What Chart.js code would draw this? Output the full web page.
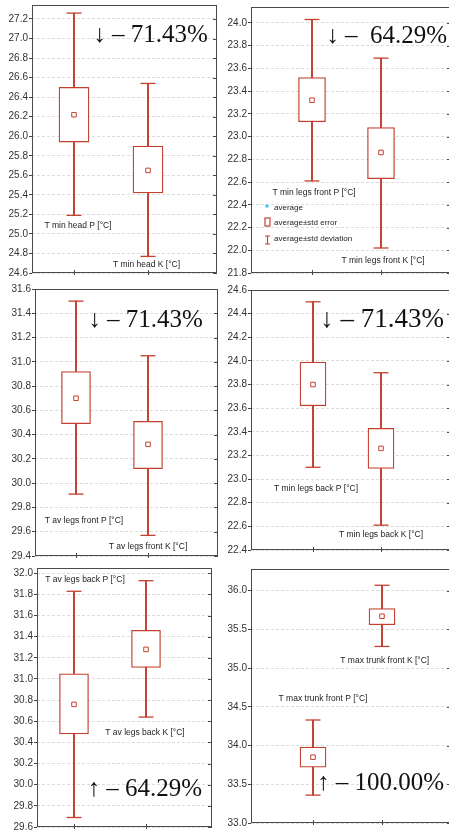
<!DOCTYPE html>
<html lang="en">
<head>
<meta charset="UTF-8" />
<title>Body temperature P vs K</title>
<script src="https://cdn.jsdelivr.net/npm/chart.js"></script>
<style>
  * { margin: 0; padding: 0; box-sizing: border-box; }
  body { background: #fff; width: 449px; height: 830px; overflow: hidden; position: relative; }
  canvas { position: absolute; }
</style>
</head>
<body>
<canvas id="c0"></canvas>
<canvas id="c1"></canvas>
<canvas id="c2"></canvas>
<canvas id="c3"></canvas>
<canvas id="c4"></canvas>
<canvas id="c5"></canvas>

<script>
// categories (P = first group, K = second group), one pair per panel
const panelLabels = [
  ['T min head P [°C]', 'T min head K [°C]'],
  ['T min legs front P [°C]', 'T min legs front K [°C]'],
  ['T av legs front P [°C]', 'T av legs front K [°C]'],
  ['T min legs back P [°C]', 'T min legs back K [°C]'],
  ['T av legs back P [°C]', 'T av legs back K [°C]'],
  ['T max trunk front P [°C]', 'T max trunk front K [°C]']
];

// average, average ± std error, average ± std deviation
const means  = [[26.22, 25.65], [23.32, 22.86], [30.70, 30.32], [23.80, 23.26], [30.76, 31.28], [33.85, 35.67]];
const seLow  = [[25.94, 25.42], [23.13, 22.63], [30.49, 30.12], [23.62, 23.09], [30.48, 31.11], [33.72, 35.56]];
const seHigh = [[26.50, 25.90], [23.52, 23.08], [30.92, 30.51], [23.99, 23.43], [31.05, 31.46], [33.98, 35.77]];
const sdLow  = [[25.19, 24.77], [22.61, 22.02], [29.91, 29.57], [23.10, 22.61], [29.69, 30.64], [33.36, 35.28]];
const sdHigh = [[27.26, 26.54], [24.03, 23.69], [31.50, 31.05], [24.50, 23.90], [31.83, 31.93], [34.33, 36.07]];

const changes = ['↓ – 71.43%', '↓ –  64.29%', '↓ – 71.43%', '↓ – 71.43%', '↑ – 64.29%', '↑ – 100.00%'];

// y tick labels per panel
const yTicks = [
  [24.6, 24.8, 25.0, 25.2, 25.4, 25.6, 25.8, 26.0, 26.2, 26.4, 26.6, 26.8, 27.0, 27.2],
  [21.8, 22.0, 22.2, 22.4, 22.6, 22.8, 23.0, 23.2, 23.4, 23.6, 23.8, 24.0],
  [29.4, 29.6, 29.8, 30.0, 30.2, 30.4, 30.6, 30.8, 31.0, 31.2, 31.4, 31.6],
  [22.4, 22.6, 22.8, 23.0, 23.2, 23.4, 23.6, 23.8, 24.0, 24.2, 24.4, 24.6],
  [29.6, 29.8, 30.0, 30.2, 30.4, 30.6, 30.8, 31.0, 31.2, 31.4, 31.6, 31.8, 32.0],
  [33.0, 33.5, 34.0, 34.5, 35.0, 35.5, 36.0]
];

const legendItems = ['average', 'average±std error', 'average±std deviation'];

const RED = '#c4402f';
const SANS = "'Liberation Sans', Arial, sans-serif";
const SERIF = "'Liberation Serif', 'Times New Roman', serif";
const AXW = 40, PAD = 12;

// layout of each plot area on the page + axis ranges + where texts sit
const panels = [
  { l: 32,  t: 5,   r: 217, b: 273, ymin: 24.6, ymax: 27.343, xmin: 0.4324, xmax: 2.9324, box: 30,
    lab: [[1.054, 25.08], [1.98, 24.69]], note: [2.81, 26.965, 25] },
  { l: 251, t: 7,   r: 451, b: 273, ymin: 21.8, ymax: 24.14, xmin: 0.1159, xmax: 3.0145, box: 27,
    lab: [[1.03, 22.51], [2.03, 21.91]], note: [2.957, 23.82, 25], legend: true },
  { l: 35,  t: 289, r: 218, b: 556, ymin: 29.4, ymax: 31.6, xmin: 0.4306, xmax: 2.9722, box: 29,
    lab: [[1.11, 29.69], [2.0, 29.475]], note: [2.76, 31.287, 25] },
  { l: 251, t: 290, r: 451, b: 550, ymin: 22.4, ymax: 24.6, xmin: 0.0882, xmax: 3.0294, box: 26,
    lab: [[1.044, 22.917], [2.0, 22.527]], note: [2.926, 24.288, 27] },
  { l: 37,  t: 568, r: 212, b: 827, ymin: 29.6, ymax: 32.05, xmin: 0.4861, xmax: 2.9167, box: 29,
    lab: [[1.153, 31.937], [1.986, 30.497]], note: [2.778, 29.891, 25] },
  { l: 251, t: 569, r: 451, b: 823, ymin: 33.0, ymax: 36.28, xmin: 0.1014, xmax: 3.0, box: 26,
    lab: [[1.145, 34.603], [2.04, 35.093]], note: [2.899, 33.428, 25] }
];

const decor = {
  id: 'decor',
  afterDraw(chart, args, o) {
    const { ctx, chartArea: a, scales: { x, y } } = chart;
    ctx.save();

    // frame + inner ticks on the right and on the bottom
    ctx.strokeStyle = '#4a4a4a';
    ctx.lineWidth = 1;
    ctx.strokeRect(a.left + 0.5, a.top + 0.5, a.width - 1, a.height - 1);
    ctx.beginPath();
    y.ticks.forEach(t => {
      const py = Math.round(y.getPixelForValue(t.value)) + 0.5;
      ctx.moveTo(a.right - 4, py);
      ctx.lineTo(a.right, py);
    });
    [1, 2].forEach(v => {
      const px = Math.round(x.getPixelForValue(v)) + 0.5;
      ctx.moveTo(px, a.bottom - 3);
      ctx.lineTo(px, a.bottom + 2);
    });
    ctx.stroke();

    // category labels inside the plot
    ctx.font = '8.5px ' + SANS;
    ctx.textAlign = 'center';
    ctx.textBaseline = 'middle';
    o.labels.forEach(([txt, vx, vy]) => {
      const px = x.getPixelForValue(vx), py = y.getPixelForValue(vy);
      const w = ctx.measureText(txt).width;
      ctx.fillStyle = '#fff';
      ctx.fillRect(px - w / 2 - 2, py - 6, w + 4, 12);
      ctx.fillStyle = '#222';
      ctx.fillText(txt, px, py);
    });

    // change annotation
    const [nx, ny, size] = o.note;
    ctx.font = size + 'px ' + SERIF;
    ctx.textAlign = 'right';
    ctx.textBaseline = 'alphabetic';
    ctx.fillStyle = '#111';
    ctx.fillText(o.change, x.getPixelForValue(nx), y.getPixelForValue(ny));

    // legend (only one panel has it)
    if (o.legend) {
      const lx = a.left + 16, ly = a.top + 201;
      ctx.font = '8px ' + SANS;
      ctx.textAlign = 'left';
      ctx.textBaseline = 'middle';
      ctx.fillStyle = '#222';
      legendItems.forEach((txt, i) => ctx.fillText(txt, lx + 7, ly + [0, 15, 31][i]));
      ctx.fillStyle = '#3cc6ef';
      ctx.fillRect(lx - 1.5, ly - 3.5, 3, 3);
      ctx.strokeStyle = RED;
      ctx.lineWidth = 1.2;
      ctx.strokeRect(lx - 2, ly + 10, 5, 8);
      ctx.beginPath();
      ctx.moveTo(lx + 0.5, ly + 28); ctx.lineTo(lx + 0.5, ly + 36);
      ctx.moveTo(lx - 2, ly + 28); ctx.lineTo(lx + 3, ly + 28);
      ctx.moveTo(lx - 2, ly + 36); ctx.lineTo(lx + 3, ly + 36);
      ctx.stroke();
    }
    ctx.restore();
  }
};

panels.forEach((p, i) => {
  const cv = document.getElementById('c' + i);
  cv.width = (p.r - p.l) + AXW + PAD;
  cv.height = (p.b - p.t) + 2 * PAD;
  cv.style.left = (p.l - AXW) + 'px';
  cv.style.top = (p.t - PAD) + 'px';

  const pts = arr => arr[i].map((v, k) => ({ x: k + 1, y: v }));
  const ranges = (lo, hi) => lo[i].map((v, k) => ({ x: k + 1, y: [v, hi[i][k]] }));
  const caps = pts(sdLow).concat(pts(sdHigh));

  new Chart(cv, {
    type: 'bar',
    data: {
      datasets: [
        { type: 'line', data: pts(means), showLine: false, pointStyle: 'rect', pointRadius: 3.2,
          pointBorderColor: RED, pointBackgroundColor: '#fff', pointBorderWidth: 1, order: 0 },
        { type: 'line', data: caps, showLine: false, pointStyle: 'line', pointRadius: 7.5,
          pointBorderColor: RED, pointBorderWidth: 1.3, order: 1 },
        { data: ranges(seLow, seHigh), backgroundColor: '#fff', borderColor: RED, borderWidth: 1.3,
          borderSkipped: false, barThickness: p.box, grouped: false, order: 2 },
        { data: ranges(sdLow, sdHigh), backgroundColor: RED, barThickness: 1.3, grouped: false, order: 3 }
      ]
    },
    options: {
      responsive: false,
      animation: false,
      events: [],
      layout: { padding: { left: 0, top: PAD, right: PAD, bottom: PAD } },
      scales: {
        x: { type: 'linear', display: false, min: p.xmin, max: p.xmax, offset: false },
        y: {
          min: p.ymin, max: p.ymax,
          afterBuildTicks: ax => { ax.ticks = yTicks[i].map(v => ({ value: v })); },
          afterFit: ax => { ax.width = AXW; },
          grid: { color: '#dcdcdc', tickColor: '#444', tickLength: 3 },
          border: { display: false, dash: [3, 2] },
          ticks: { padding: 1, color: '#333', font: { family: SANS, size: 10 },
                   callback: v => v.toFixed(1) }
        }
      },
      plugins: {
        legend: { display: false },
        tooltip: { enabled: false },
        decor: {
          labels: panelLabels[i].map((t, k) => [t, p.lab[k][0], p.lab[k][1]]),
          note: p.note,
          change: changes[i],
          legend: !!p.legend
        }
      }
    },
    plugins: [decor]
  });
});
</script>
</body>
</html>
